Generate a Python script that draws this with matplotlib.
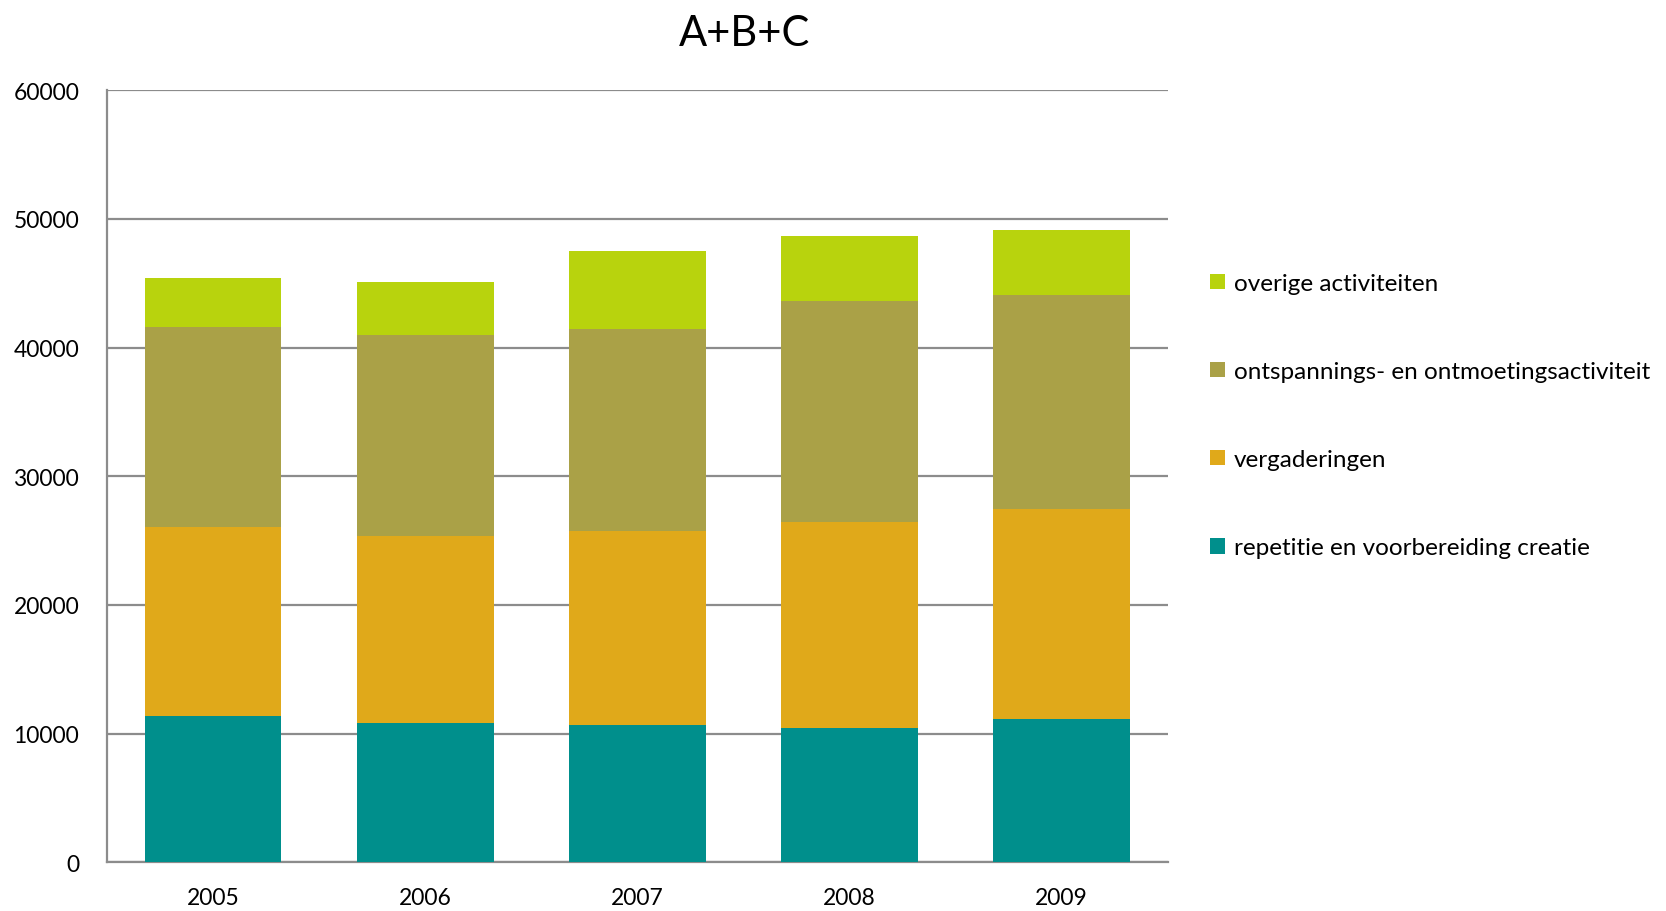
import matplotlib
matplotlib.use("Agg")
import matplotlib.pyplot as plt
import numpy as np

years = ["2005", "2006", "2007", "2008", "2009"]
series_names = ["repetitie en voorbereiding creatie", "vergaderingen",
                "ontspannings- en ontmoetingsactiviteit", "overige activiteiten"]
repetitie = [11370, 10850, 10640, 10430, 11160]
vergaderingen = [14660, 14500, 15080, 16010, 16310]
ontspanning = [15540, 15650, 15690, 17150, 16630]
overige = [3830, 4090, 6060, 5100, 5050]
colors = ["#008F8C", "#E0A91A", "#AAA147", "#B8D30D"]
yticks = [0, 10000, 20000, 30000, 40000, 50000, 60000]

plt.rcParams['font.family'] = ['Lato', 'DejaVu Sans']

fig = plt.figure(figsize=(16.66, 9.12), dpi=100)
ax = fig.add_axes([107/1666, 1-863.3/912, (1167.7-107)/1666, (863.3-91.1)/912])

x = np.arange(len(years))
bottom = np.zeros(len(years))
handles = []
for vals, name, c in zip([repetitie, vergaderingen, ontspanning, overige], series_names, colors):
    h = ax.bar(x, vals, bottom=bottom, width=0.645, color=c, label=name, zorder=3)
    handles.append(h)
    bottom += np.array(vals)

ax.set_xlim(-0.5, len(years) - 0.5)
ax.set_ylim(0, 60000)
ax.set_yticks(yticks)
ax.set_yticklabels([str(t) for t in yticks])
ax.set_xticks(x)
ax.set_xticklabels(years)
ax.yaxis.grid(True, color="#8c8c8c", linewidth=1.6, zorder=0)
ax.set_axisbelow(True)
for s in ["top", "right"]:
    ax.spines[s].set_visible(False)
for s in ["left", "bottom"]:
    ax.spines[s].set_color("#8c8c8c")
    ax.spines[s].set_linewidth(1.6)
ax.tick_params(axis="both", length=0, labelsize=16.5, colors="black")
ax.tick_params(axis="y", pad=20)
ax.tick_params(axis="x", pad=18)

fig.text(0.447, 1-34/912, "A+B+C", ha="center", va="center", fontsize=30)

leg = fig.legend(handles[::-1], series_names[::-1], loc="upper left",
                 bbox_to_anchor=(1210/1666, 1-274/912), frameon=False,
                 fontsize=17.5, borderpad=0, borderaxespad=0,
                 handlelength=0.62, handleheight=0.62, handletextpad=0.35,
                 labelspacing=2.76)

fig.savefig("out.png", dpi=100)
